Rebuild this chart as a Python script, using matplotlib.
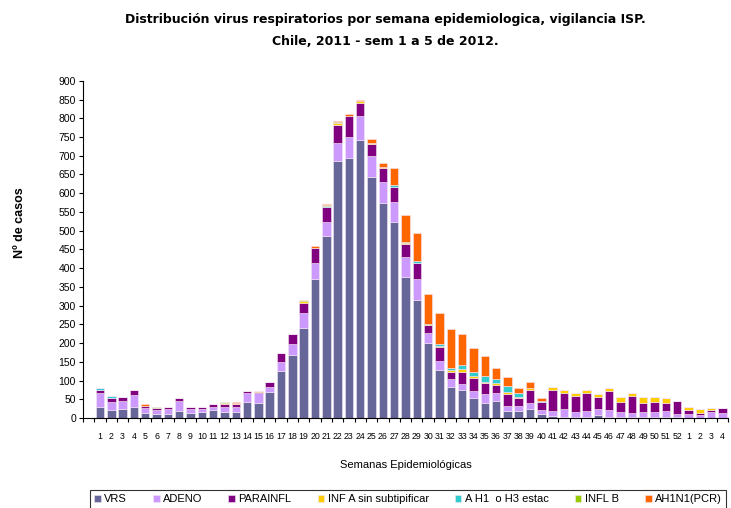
import numpy as np
import matplotlib
matplotlib.use('Agg')
import matplotlib.pyplot as plt

plt.rcParams['font.family'] = ['Liberation Sans', 'DejaVu Sans']

# semanas: 1..52 de 2011 y 1..4 de 2012
weeks = [str(i) for i in range(1, 53)] + ['1', '2', '3', '4']

vrs = [29, 21, 24, 29, 14, 11, 11, 19, 14, 17, 21, 17, 17, 42, 39, 70, 126, 168, 240, 371,
       486, 685, 693, 743, 642, 575, 523, 377, 315, 201, 128, 84, 75, 54, 39, 46, 19, 19, 23, 10,
       5, 4, 4, 4, 8, 4, 3, 3, 3, 2, 2, 2, 1, 1, 1, 1]
adeno = [37, 21, 22, 32, 12, 10, 12, 27, 9, 6, 8, 12, 13, 24, 28, 14, 24, 30, 40, 44,
         36, 49, 56, 62, 56, 54, 54, 54, 55, 25, 24, 19, 16, 19, 25, 22, 14, 13, 18, 12,
         13, 21, 13, 16, 15, 18, 14, 11, 12, 15, 18, 9, 10, 6, 14, 12]
parainfl = [10, 12, 10, 14, 6, 5, 7, 8, 7, 7, 8, 8, 7, 6, 2, 13, 23, 26, 28, 38,
            41, 49, 56, 37, 34, 37, 39, 34, 43, 22, 37, 21, 33, 33, 29, 19, 31, 21, 34, 20,
            56, 41, 43, 47, 34, 49, 25, 46, 25, 25, 20, 34, 11, 7, 7, 13]
inf_a = [0, 0, 0, 0, 1, 1, 0, 0, 0, 0, 0, 4, 3, 0, 4, 0, 0, 0, 5, 2,
         0, 3, 2, 3, 2, 3, 0, 3, 0, 0, 4, 4, 7, 6, 4, 6, 6, 3, 4, 0,
         10, 9, 7, 8, 6, 10, 15, 7, 17, 15, 14, 0, 7, 11, 5, 1]
ah1_h3 = [4, 5, 0, 0, 0, 0, 0, 0, 0, 0, 0, 0, 0, 0, 0, 0, 0, 0, 0, 0,
          3, 0, 0, 0, 0, 0, 6, 0, 6, 1, 6, 6, 11, 12, 15, 10, 15, 10, 2, 4,
          0, 0, 0, 0, 0, 0, 0, 0, 0, 0, 0, 0, 0, 0, 0, 0]
infl_b = [0, 0, 0, 0, 0, 3, 0, 0, 0, 0, 0, 3, 0, 0, 0, 0, 0, 0, 2, 0,
          2, 3, 0, 0, 0, 0, 0, 3, 0, 2, 0, 0, 0, 0, 0, 0, 0, 0, 0, 0,
          0, 0, 0, 0, 0, 0, 0, 0, 0, 0, 0, 0, 0, 0, 0, 0]
ah1n1 = [0, 0, 0, 0, 4, 0, 0, 0, 0, 0, 0, 0, 4, 0, 0, 0, 0, 0, 0, 4,
         4, 4, 5, 4, 10, 11, 45, 71, 74, 81, 81, 104, 82, 64, 54, 30, 25, 13, 14, 8,
         0, 0, 0, 0, 0, 0, 0, 0, 0, 0, 0, 0, 0, 0, 0, 0]

series = [('VRS', vrs, '#666699'),
          ('ADENO', adeno, '#CC99FF'),
          ('PARAINFL', parainfl, '#800080'),
          ('INF A sin subtipificar', inf_a, '#FFCC00'),
          ('A H1  o H3 estac', ah1_h3, '#33CCCC'),
          ('INFL B', infl_b, '#99CC00'),
          ('AH1N1(PCR)', ah1n1, '#FF6600')]

fig = plt.figure(figsize=(7.31, 5.08), dpi=100)
ax = fig.add_axes([0.1135, 0.177, 0.8825, 0.664])

x = np.arange(len(weeks))
bottom = np.zeros(len(weeks))
for name, vals, col in series:
    ax.bar(x, vals, bottom=bottom, width=0.75, color=col, label=name,
           edgecolor='#f4e6f4', linewidth=0.4)
    bottom += np.array(vals)

ax.set_xlim(-1.5, len(weeks) - 0.5)
ax.set_ylim(0, 900)
ax.set_yticks(np.arange(0, 901, 50))
ax.tick_params(axis='y', labelsize=7.5, length=3, width=0.8, pad=2)
ax.set_xticks(x)
ax.set_xticklabels(weeks, fontsize=6.3)
ax.set_xticks(np.arange(-1.5, len(weeks), 1), minor=True)
ax.tick_params(axis='x', which='major', length=0, pad=10)
ax.tick_params(axis='x', which='minor', length=3, width=0.8)
for s in ['top', 'right']:
    ax.spines[s].set_visible(False)
ax.spines['left'].set_linewidth(0.8)
ax.spines['bottom'].set_linewidth(0.8)

ax.set_ylabel('Nº de casos', fontsize=9, fontweight='bold')
ax.yaxis.set_label_coords(-0.088, 0.58)
ax.set_xlabel('Semanas Epidemiológicas', fontsize=8, labelpad=14)

fig.text(0.527, 0.94, 'Distribución virus respiratorios por semana epidemiologica, vigilancia ISP.\n'
         'Chile, 2011 - sem 1 a 5 de 2012.', ha='center', va='center',
         fontsize=9, fontweight='bold', linespacing=1.9, family='DejaVu Sans')

leg = fig.legend(loc='lower center', bbox_to_anchor=(0.558, -0.012), ncol=7,
                 fontsize=8, frameon=True, fancybox=False, edgecolor='black',
                 handlelength=0.6, handleheight=0.6, handletextpad=0.3,
                 columnspacing=2.35, borderpad=0.4)
leg.get_frame().set_linewidth(0.8)

fig.savefig('out.png', dpi=100)
